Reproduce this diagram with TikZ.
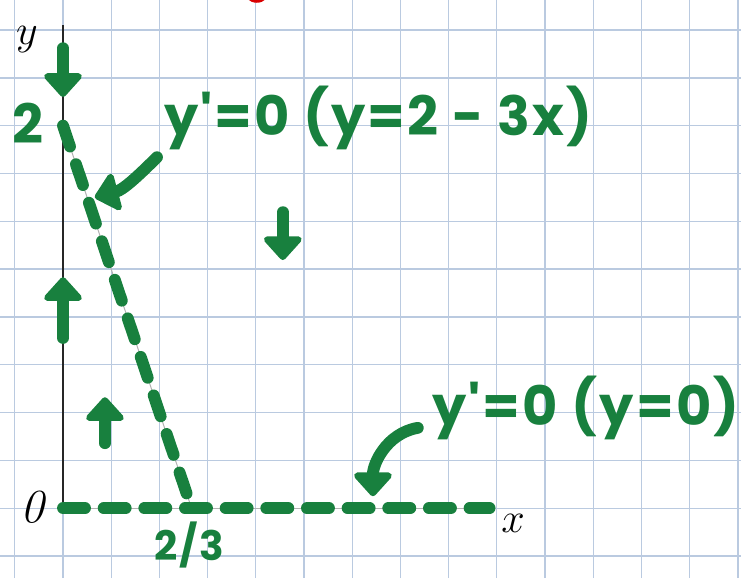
\documentclass[tikz,border=0pt]{standalone}
\usepackage{fontspec}
\newfontfamily\markerfont{Poppins}[LetterSpace=4]
\usetikzlibrary{arrows.meta}
\definecolor{marker}{RGB}{24,128,62}
\definecolor{paper}{RGB}{186,202,224}

\begin{document}
\begin{tikzpicture}[y=0.992cm,
    pen/.style={line width=7pt, line cap=round, draw=marker},
    flow/.style={pen, -{Triangle[width=26pt,length=15pt,round]}},
    nullcline/.style={pen, dash pattern=on 13pt off 11pt},
    greenlabel/.style={text=marker, font=\markerfont\bfseries\fontsize{32}{32}\selectfont},
    pencil/.style={font=\fontsize{28}{28}\selectfont}]

    \useasboundingbox (-1.307,-1.464) rectangle (14.066,10.628);
    % squared paper
    \draw[paper, line width=0.8pt, step=1] (-1.307,-1.464) grid (14.066,10.628);
    \fill[red!85!black] (4.02,10.85) circle (0.28);

    % axes
    \coordinate (O) at (0,0);
    \coordinate (ytop) at (0,10.1);
    \coordinate (xend) at (8.85,0);
    \coordinate (yint) at (0,8);
    \coordinate (xint) at (2.667,0);
    \draw[black!85, line width=1.1pt] (O) -- (ytop);
    \draw[gray!60, line width=0.6pt] (O) -- (xend);
    \draw[gray!60, line width=0.6pt] (yint) -- (xint);

    % nullclines
    \draw[nullcline] (O) -- (xend);
    \draw[nullcline] (yint) -- (xint);

    % labels
    \node[pencil] (ylab) at (-0.75,9.8) {$y$};
    \node[pencil] (xlab) at (9.34,-0.31) {$x$};
    \node[pencil] (olab) at (-0.62,0.02) {\textit{0}};
    \node[greenlabel] (two) at (-0.73,8.05) {2};
    \node[greenlabel, font=\markerfont\bfseries\fontsize{24}{24}\selectfont] (twothirds) at (2.62,-0.77) {2/3};
    \node[greenlabel] (nc1) at (6.54,8.16) {y'=0 (y=2 - 3x)};
    \node[greenlabel] (nc2) at (10.85,2.09) {y'=0 (y=0)};

    % direction of y'
    \coordinate (a1) at (0,9.62);    \coordinate (b1) at (0,8.6);
    \coordinate (a2) at (0,3.56);    \coordinate (b2) at (0,4.83);
    \coordinate (a3) at (0.87,1.36); \coordinate (b3) at (0.87,2.32);
    \coordinate (a4) at (4.56,6.19); \coordinate (b4) at (4.56,5.19);
    \draw[flow] (a1) -- (b1);
    \draw[flow] (a2) -- (b2);
    \draw[flow] (a3) -- (b3);
    \draw[flow] (a4) -- (b4);

    % pointers
    \coordinate (t1) at (1.95,7.34); \coordinate (p1) at (0.66,6.5);
    \coordinate (t2) at (7.36,1.68); \coordinate (p2) at (6.43,0.25);
    \draw[flow] (t1) to[out=225, in=15] (p1);
    \draw[flow] (t2) to[out=190, in=90] (p2);
\end{tikzpicture}
\end{document}
